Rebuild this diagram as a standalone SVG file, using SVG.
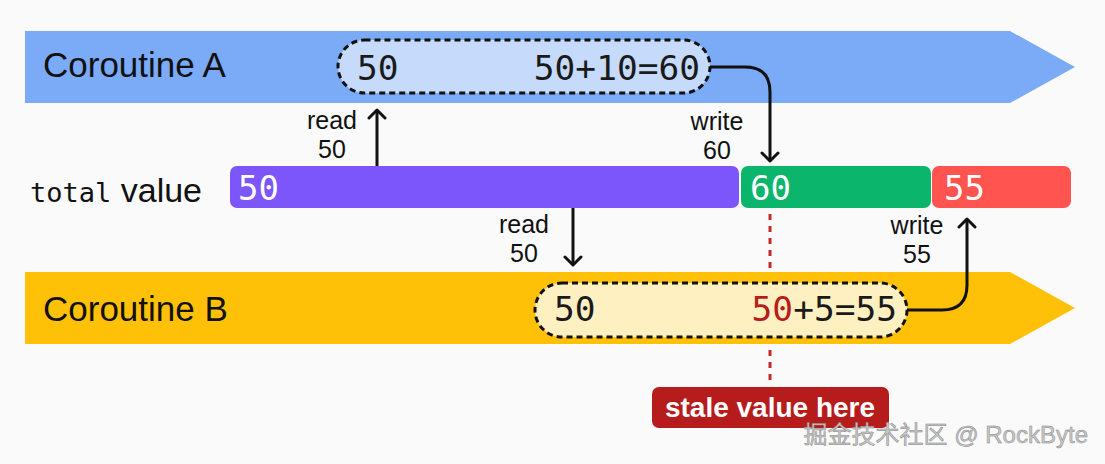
<svg xmlns="http://www.w3.org/2000/svg" width="1105" height="464" viewBox="0 0 1105 464">
<style>
.lane{font-family:"Liberation Sans",Arial,sans-serif;font-size:35px;fill:#111}
.mono{font-family:"DejaVu Sans Mono","Liberation Mono",monospace}
.num{font-family:"DejaVu Sans Mono","Liberation Mono",monospace;font-size:34.5px;fill:#1a1a1a}
.bar{font-family:"DejaVu Sans Mono","Liberation Mono",monospace;font-size:34px;fill:#fff}
.lbl{font-family:"Liberation Sans",Arial,sans-serif;font-size:25px;fill:#111;text-anchor:middle}
.pill{stroke:#111;stroke-width:3;stroke-dasharray:6 4}
.conn{fill:none;stroke:#111;stroke-width:3}
.stale{fill:none;stroke:#c62828;stroke-width:3;stroke-dasharray:6 6}
</style>
<defs>
<marker id="ah" viewBox="0 0 20 20" refX="10" refY="10" markerWidth="20" markerHeight="20" markerUnits="userSpaceOnUse" orient="auto">
<path d="M2,2 L10,10 L2,18" fill="none" stroke="#111" stroke-width="3" stroke-linejoin="round" stroke-linecap="round"/>
</marker>
</defs>
<rect width="1105" height="464" fill="#fafafa"/>

<g id="coroutineA">
<path d="M25,31 H1010 L1075,67 L1010,103 H25 Z" fill="#7baaf7"/>
<text class="lane" x="43" y="77">Coroutine A</text>
<rect class="pill" x="338" y="40" width="372" height="53" rx="26.5" fill="#c6dafc"/>
<text class="num" x="357" y="80">50</text>
<text class="num" x="700" y="80" text-anchor="end">50+10=60</text>
</g>

<g id="coroutineB">
<path d="M25,272 H1010 L1075,308 L1010,344 H25 Z" fill="#ffc107"/>
<text class="lane" x="43" y="321">Coroutine B</text>
<rect class="pill" x="535" y="283" width="372" height="54" rx="27" fill="#fff0c2"/>
<text class="num" x="554" y="321">50</text>
<text class="num" x="897" y="321" text-anchor="end"><tspan fill="#b71c1c">50</tspan>+5=55</text>
</g>

<g id="totalValue">
<text x="30" y="202" font-size="27" fill="#111"><tspan class="mono">total</tspan><tspan font-family="Liberation Sans, Arial, sans-serif" font-size="34"> value</tspan></text>
<rect x="230" y="166" width="509" height="42" rx="7" fill="#7c55fb"/>
<text class="bar" x="238" y="200">50</text>
<rect x="741" y="166" width="190" height="42" rx="7" fill="#0bb56b"/>
<text class="bar" x="750" y="200">60</text>
<rect x="932" y="166" width="139" height="42" rx="7" fill="#ff5450"/>
<text class="bar" x="944" y="200">55</text>
</g>

<g id="staleNote">
<rect x="652" y="387" width="237" height="41" rx="7" fill="#b71c1c"/>
<text x="770" y="417" font-family="Liberation Sans, Arial, sans-serif" font-size="28" font-weight="bold" fill="#fff" text-anchor="middle">stale value here</text>
</g>

<g id="connectors">
<path class="conn" d="M377,166 V110" marker-end="url(#ah)"/>
<path class="conn" d="M710,67 H745 Q770,67 770,92 V161" marker-end="url(#ah)"/>
<path class="conn" d="M573,208 V265" marker-end="url(#ah)"/>
<path class="conn" d="M907,310 H942 Q967,310 967,285 V219" marker-end="url(#ah)"/>
<path class="stale" d="M770,214 V268"/>
<path class="stale" d="M770,350 V386"/>
</g>

<g id="labels">
<text class="lbl" x="332" y="129">read</text>
<text class="lbl" x="332" y="158">50</text>
<text class="lbl" x="717" y="130">write</text>
<text class="lbl" x="717" y="159">60</text>
<text class="lbl" x="524" y="233">read</text>
<text class="lbl" x="524" y="262">50</text>
<text class="lbl" x="917" y="234">write</text>
<text class="lbl" x="917" y="263">55</text>
</g>

<text x="1088" y="443" text-anchor="end" font-family="Liberation Sans, 'Noto Sans CJK SC', sans-serif" font-size="24" fill="#c8c8c8" stroke="#888" stroke-width="0.5">掘金技术社区 @ RockByte</text>
</svg>
